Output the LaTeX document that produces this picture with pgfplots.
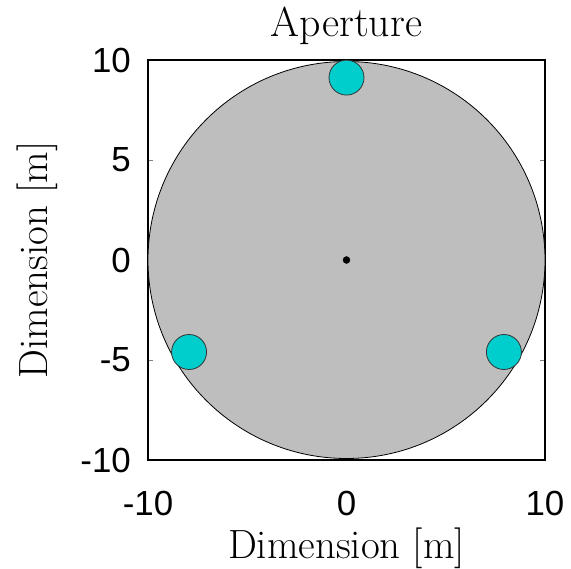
\documentclass[border=0pt]{standalone}
\usepackage{fontspec}
\usepackage{pgfplots}
\pgfplotsset{compat=1.18}
\newfontfamily\tickfont{Liberation Sans}
\definecolor{diskgray}{RGB}{190,190,190}
\definecolor{mirror}{RGB}{0,206,205}
\begin{document}
\begin{tikzpicture}
\begin{axis}[
  scale only axis, width=397bp, height=400bp,
  xmin=-10, xmax=10, ymin=-10, ymax=10,
  xtick={-10,0,10}, ytick={-10,-5,0,5,10},
  tick align=inside, major tick length=5bp,
  axis line style={line width=1.3bp},
  /pgf/number format/assume math mode=true,
  tick label style={font=\tickfont\fontsize{35}{40}\selectfont, inner sep=0pt},
  xticklabel style={anchor=base, yshift=-55bp},
  yticklabel style={anchor=east, xshift=-17bp},
  title={Aperture},
  title style={font=\fontsize{42}{46}\selectfont, at={(0.5,1.045)}, anchor=base, inner sep=0pt},
  xlabel={Dimension [m]},
  ylabel={Dimension [m]},
  xlabel style={font=\fontsize{41}{46}\selectfont, at={(0.5,-0.245)}, anchor=base, inner sep=0pt},
  ylabel style={font=\fontsize{41}{46}\selectfont, at={(-0.2519,0.5)}, anchor=base, inner sep=0pt},
]
% aperture disk, radius 10 m
\addplot[only marks, mark=*, mark size=198.5bp,
  mark options={fill=diskgray, draw=black, line width=0.8bp}] coordinates {(0,0)};
% three mirrors
\addplot[only marks, mark=*, mark size=17.5bp,
  mark options={fill=mirror, draw=black!80, line width=0.8bp}] coordinates {(0,9.12) (-7.93,-4.6) (7.93,-4.6)};
% centre
\addplot[only marks, mark=*, mark size=3.5bp, black] coordinates {(0,0)};
\end{axis}
\pgfresetboundingbox
\path[use as bounding box] ([xshift=-148bp,yshift=-109bp]current axis.south west) rectangle ([xshift=423bp,yshift=460bp]current axis.south west);
\end{tikzpicture}
\end{document}
